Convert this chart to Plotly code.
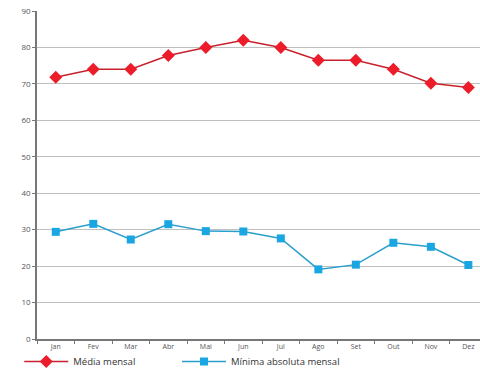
import plotly.graph_objects as go

months = ["Jan", "Fev", "Mar", "Abr", "Mai", "Jun", "Jul", "Ago", "Set", "Out", "Nov", "Dez"]
media_mensal = [71.8, 74.0, 74.0, 77.8, 80.0, 82.0, 80.0, 76.5, 76.5, 74.0, 70.2, 69.0]
minima_absoluta = [29.4, 31.6, 27.3, 31.5, 29.6, 29.5, 27.6, 19.1, 20.4, 26.4, 25.3, 20.3]
y_ticks = [0, 10, 20, 30, 40, 50, 60, 70, 80, 90]

fig = go.Figure()
fig.add_trace(go.Scatter(
    x=months, y=media_mensal, name="Média mensal", mode="lines+markers",
    line=dict(color="#c8202c", width=1.5),
    marker=dict(symbol="diamond", size=10, color="#ec1c2a", line=dict(width=0)),
    legend="legend",
))
fig.add_trace(go.Scatter(
    x=months, y=minima_absoluta, name="Mínima absoluta mensal", mode="lines+markers",
    line=dict(color="#2a9fcc", width=1.5),
    marker=dict(symbol="square", size=8, color="#1aa6e2", line=dict(width=0)),
    legend="legend2",
))

leg_common = dict(orientation="h", y=-0.1128, xanchor="left", yanchor="bottom",
                  font=dict(size=9.5, color="#333333"), itemwidth=44,
                  bgcolor="rgba(0,0,0,0)")

fig.update_layout(
    width=480, height=376,
    margin=dict(l=37, r=0, t=11, b=37),
    paper_bgcolor="white", plot_bgcolor="white",
    font=dict(family="Open Sans, Liberation Sans, sans-serif", size=8, color="#555555"),
    showlegend=True,
    legend=dict(x=-0.04, **leg_common),
    legend2=dict(x=0.316, **leg_common),
)
fig.update_xaxes(
    type="category", range=[-0.5, 11.31],
    showgrid=False, showline=True, linecolor="#777777", linewidth=1.5,
    ticks="outside", tickson="boundaries", ticklen=3, tickcolor="#777777",
    tickfont=dict(size=7, color="#555555"),
)
fig.update_yaxes(
    range=[0, 90], tickvals=y_ticks, showgrid=True, gridcolor="#bfbfbf", gridwidth=1.2,
    showline=True, linecolor="#777777", linewidth=1.5,
    ticks="outside", ticklen=3, tickcolor="#777777",
    tickfont=dict(size=8, color="#555555"), zeroline=False,
)

fig.write_html("out.html")
